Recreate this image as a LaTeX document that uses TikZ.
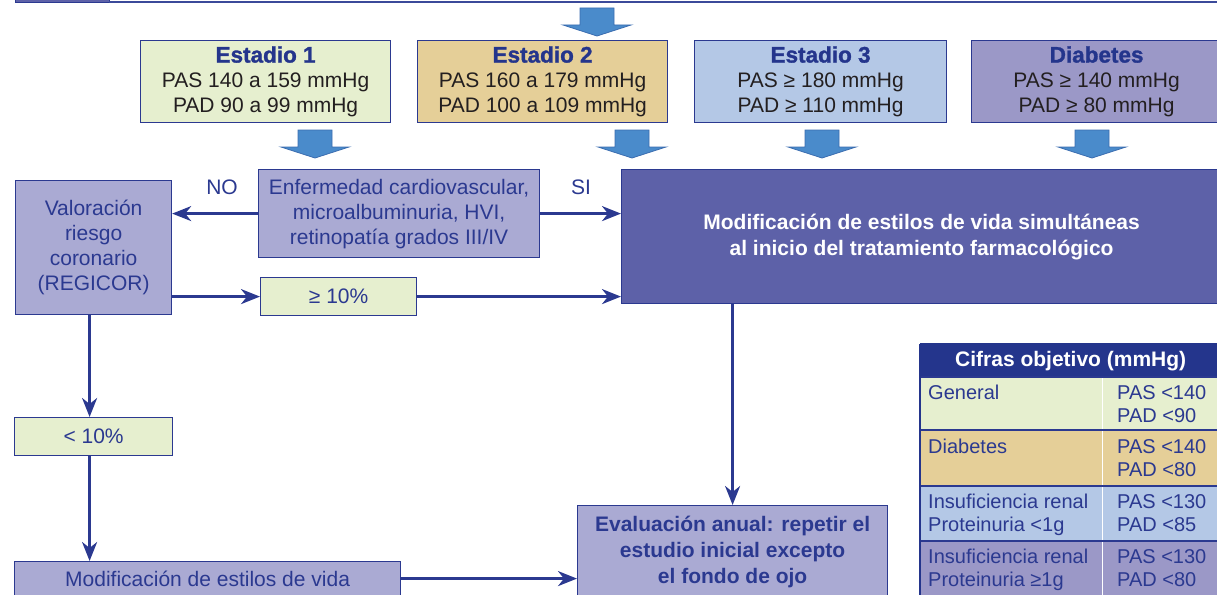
\documentclass[tikz,border=0pt]{standalone}
\usepackage{fontspec}
\setmainfont{Liberation Sans}
\newfontfamily\heavy{Liberation Sans}[BoldFeatures={FakeBold=1.3}]
\usetikzlibrary{arrows.meta,calc}
\definecolor{cgreen}{HTML}{E6EFCF}
\definecolor{ctan}{HTML}{E5CF98}
\definecolor{cblue}{HTML}{B4C8E6}
\definecolor{cpurple}{HTML}{9B98C7}
\definecolor{clav}{HTML}{AAAAD3}
\definecolor{cbig}{HTML}{5D61A8}
\definecolor{chead}{HTML}{24358C}
\definecolor{ctext}{HTML}{2B3990}
\definecolor{cdark}{HTML}{231F20}
\definecolor{carrow}{HTML}{4A8BCB}
\definecolor{carrowb}{HTML}{3B6DB0}
\definecolor{cline}{HTML}{3B4A9A}
\tikzset{
  barrow/.pic={\filldraw[fill=carrow, draw=carrowb, line width=0.8pt]
    (-17,0) -- (17,0) -- (17,17) -- (34,17) -- (0,28) -- (-34,17) -- (-17,17) -- cycle;}
}
\newcommand\stagetitle[1]{{\heavy\bfseries\fontsize{22.5}{25}\selectfont\color{chead}#1}}
\begin{document}
\begin{tikzpicture}[x=1pt,y=-1pt,
  box/.style={draw=ctext, line width=1.2pt, inner sep=0pt, anchor=north west, align=center,
    text=ctext, font=\fontsize{21}{25}\selectfont},
  stagebox/.style={box, text=cdark, minimum width=250pt, minimum height=82pt},
  conn/.style={draw=ctext, line width=2.6pt, -{Stealth[length=19pt,width=15pt,inset=6pt]}},
  lbl/.style={text=ctext, font=\fontsize{21}{25}\selectfont, inner sep=0pt},
  cell/.style={inner sep=0pt, anchor=north west, minimum width=301pt},
  ctxt/.style={inner sep=0pt, anchor=north west, align=left, text=ctext, font=\fontsize{20}{23}\selectfont},
]
\useasboundingbox (0,0) rectangle (1217,594);
\clip (0,0) rectangle (1217,594);

% top header
\filldraw[fill=cbig, draw=ctext, line width=1pt] (15,-10) rectangle (109,3);
\draw[cline, line width=1.6pt] (109,2.2) -- (1220,2.2);
\pic at (597,8) {barrow};

% stage boxes
\node[stagebox, fill=cgreen] (s1) at (140,40)
  {\stagetitle{Estadio 1}\\PAS 140 a 159 mmHg\\PAD 90 a 99 mmHg};
\node[stagebox, fill=ctan] (s2) at (417,40)
  {\stagetitle{Estadio 2}\\PAS 160 a 179 mmHg\\PAD 100 a 109 mmHg};
\node[stagebox, fill=cblue, minimum width=252pt] (s3) at (694,40)
  {\stagetitle{Estadio 3}\\PAS ≥ 180 mmHg\\PAD ≥ 110 mmHg};
\node[stagebox, fill=cpurple] (s4) at (971,40)
  {\stagetitle{Diabetes}\\PAS ≥ 140 mmHg\\PAD ≥ 80 mmHg};

\pic at (315,130) {barrow};
\pic at (632,130) {barrow};
\pic at (822,130) {barrow};
\pic at (1092,130) {barrow};

% middle
\node[box, fill=clav, minimum width=156pt, minimum height=134pt] (val) at (15,180)
  {Valoración\\riesgo\\coronario\\(REGICOR)};
\node[box, fill=clav, minimum width=281pt, minimum height=88pt] (enf) at (258,169)
  {Enfermedad cardiovascular,\\microalbuminuria, HVI,\\retinopatía grados III/IV};
\node[box, fill=cbig, text=white, minimum width=600pt, minimum height=134pt,
  font=\bfseries\fontsize{21}{26}\selectfont] (big) at (621,169)
  {Modificación de estilos de vida simultáneas\\al inicio del tratamiento farmacológico};
\node[box, fill=cgreen, minimum width=156pt, minimum height=38pt] (ge) at (260,277) {≥ 10\%};
\node[box, fill=cgreen, minimum width=158pt, minimum height=38pt] (lt) at (14,417) {< 10\%};
\node[box, fill=clav, minimum width=386pt, minimum height=34pt] (mod) at (14,561)
  {Modificación de estilos de vida};
\node[box, fill=clav, minimum width=310pt, minimum height=92pt,
  font=\bfseries\fontsize{21}{26}\selectfont] (ev) at (577,505)
  {Evaluación anual: repetir el\\estudio inicial excepto\\el fondo de ojo};

\node[lbl] (no) at (222,187) {NO};
\node[lbl] (si) at (581,187) {SI};

% connectors
\draw[conn] (enf.west) -- (enf.west -| val.east);
\draw[conn] (enf.east) -- (enf.east -| big.west);
\draw[conn] (ge.west -| val.east) -- (ge.west);
\draw[conn] (ge.east) -- (ge.east -| big.west);
\draw[conn] ([xshift=-4pt]val.south) -- ([xshift=-4pt]lt.north);
\draw[conn] ([xshift=-4pt]lt.south) -- ([xshift=-4pt]lt.south |- mod.north);
\draw[conn] (mod.east) -- (mod.east -| ev.west);
\draw[conn] (big.south -| ev.north) -- (ev.north);

% table
\node[cell, fill=chead, minimum height=33pt, text=white,
  font=\bfseries\fontsize{21}{24}\selectfont] (th) at (920,344) {Cifras objetivo (mmHg)};
\node[cell, fill=cgreen, minimum height=53pt] (r1) at (920,377) {};
\node[cell, fill=ctan, minimum height=56pt] (r2) at (920,430) {};
\node[cell, fill=cblue, minimum height=55pt] (r3) at (920,486) {};
\node[cell, fill=cpurple, minimum height=60pt] (r4) at (920,541) {};
\draw[white, line width=1pt] (1102,377) -- (1102,600);
\draw[ctext, line width=1.2pt] (920,377) -- (1221,377) (920,430) -- (1221,430)
  (920,486) -- (1221,486) (920,541) -- (1221,541);
\draw[chead, line width=1.5pt] (920,344) -- (920,600);
\draw[chead, line width=1.5pt] (920,344) -- (1221,344);

\node[ctxt] (t1a) at (928,385) {General};
\node[ctxt] (t1b) at (1117,385) {PAS <140\\PAD <90};
\node[ctxt] (t2a) at (928,439) {Diabetes};
\node[ctxt] (t2b) at (1117,439) {PAS <140\\PAD <80};
\node[ctxt] (t3a) at (928,494) {Insuficiencia renal\\Proteinuria <1g};
\node[ctxt] (t3b) at (1117,494) {PAS <130\\PAD <85};
\node[ctxt] (t4a) at (928,549) {Insuficiencia renal\\Proteinuria ≥1g};
\node[ctxt] (t4b) at (1117,549) {PAS <130\\PAD <80};
\end{tikzpicture}
\end{document}
